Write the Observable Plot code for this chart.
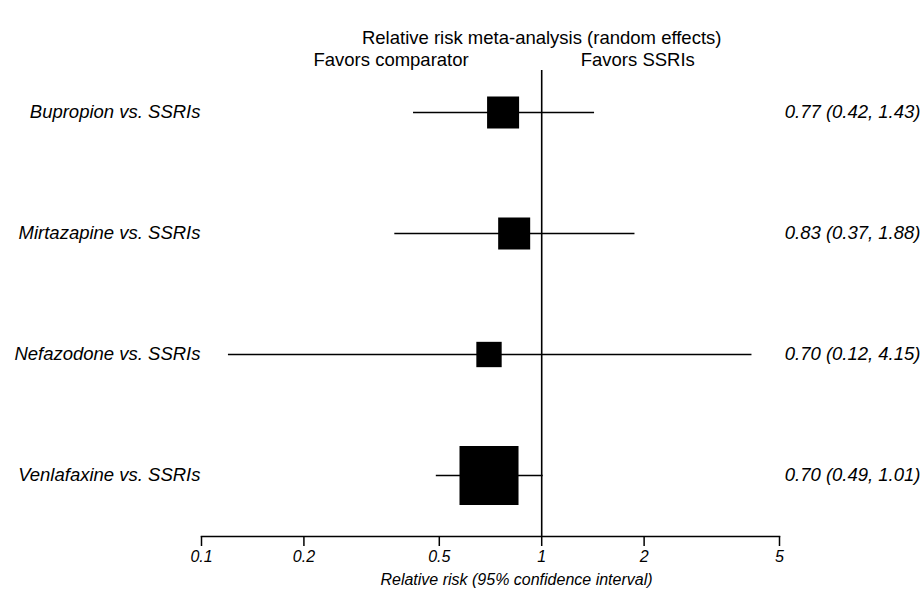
<!DOCTYPE html>
<html>
<head>
<meta charset="utf-8">
<script src="https://cdn.jsdelivr.net/npm/d3@7"></script>
<script src="https://cdn.jsdelivr.net/npm/@observablehq/plot@0.6"></script>
<style>
  html, body { margin: 0; padding: 0; background: #fff; }
  svg { display: block; }
</style>
</head>
<body>
<div id="chart"></div>
<script>
// Data
const comparisons = ["Bupropion vs. SSRIs", "Mirtazapine vs. SSRIs", "Nefazodone vs. SSRIs", "Venlafaxine vs. SSRIs"];
const relativeRisk = [0.77, 0.83, 0.70, 0.70];
const ciLow = [0.42, 0.37, 0.12, 0.49];
const ciHigh = [1.43, 1.88, 4.15, 1.01];
const weights = [16.6, 16.6, 10.4, 56.4]; // approximate pooled weights (square area)
const xTicks = [0.1, 0.2, 0.5, 1, 2, 5];
const titleText = "Relative risk meta-analysis (random effects)";
const favorsLeft = "Favors comparator";
const favorsRight = "Favors SSRIs";
const xLabel = "Relative risk (95% confidence interval)";

const fmt = d3.format(".2f");
const rows = comparisons.map((c, i) => ({
  label: c,
  rr: relativeRisk[i],
  lo: ciLow[i],
  hi: ciHigh[i],
  w: weights[i],
  text: `${fmt(relativeRisk[i])} (${fmt(ciLow[i])}, ${fmt(ciHigh[i])})`
}));

const font = "'Liberation Sans', Arial, Helvetica, sans-serif";

const chart = Plot.plot({
  width: 922,
  height: 594,
  marginTop: 70,
  marginBottom: 58,
  marginLeft: 201,
  marginRight: 143,
  style: { fontFamily: font, fontSize: "18.5px", color: "black", background: "white" },
  x: { type: "log", domain: [0.1, 5] },
  y: { type: "point", domain: comparisons, range: [111.3, 475], padding: 0 },
  r: { type: "sqrt", domain: [0, d3.max(weights)], range: [0, 33.3] },
  marks: [
    Plot.frame({ anchor: "bottom", stroke: "black", strokeWidth: 1.5 }),
    Plot.axisX({
      ticks: xTicks, tickFormat: d => String(d), tickSize: 10, tickPadding: 4.5,
      fontStyle: "italic", fontSize: 16, stroke: "black", strokeWidth: 1.5, label: null
    }),
    Plot.axisY({ tickSize: 0, tickPadding: 1, fontStyle: "italic", label: null }),
    Plot.ruleX([1], { stroke: "black", strokeWidth: 1.6 }),
    Plot.ruleY(rows, { y: "label", x1: "lo", x2: "hi", stroke: "black", strokeWidth: 1.3 }),
    Plot.dot(rows, { x: "rr", y: "label", r: "w", symbol: "square", fill: "black", stroke: null }),
    Plot.text(rows, { y: "label", text: "text", frameAnchor: "right", textAnchor: "end", dx: 141, fontStyle: "italic", fill: "black" }),
    Plot.text([titleText], { x: [1], text: d => d, frameAnchor: "top", textAnchor: "middle", dy: -40, fill: "black" }),
    Plot.text([favorsLeft], { x: [1], text: d => d, frameAnchor: "top", textAnchor: "end", dx: -73, dy: -18, fill: "black" }),
    Plot.text([favorsRight], { x: [1], text: d => d, frameAnchor: "top", textAnchor: "start", dx: 39, dy: -18, fill: "black" }),
    Plot.text([xLabel], { text: d => d, frameAnchor: "bottom", textAnchor: "middle", dx: 26, dy: 48.4, fontSize: 16, fontStyle: "italic", fill: "black" })
  ]
});
document.getElementById("chart").appendChild(chart);
</script>
</body>
</html>
